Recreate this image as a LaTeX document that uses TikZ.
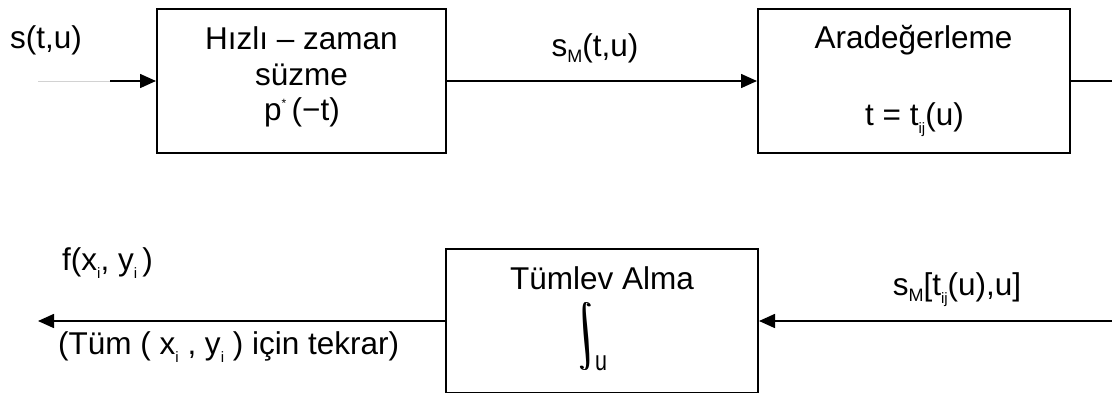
\documentclass[tikz,border=0pt]{standalone}
\usepackage{fontspec}
\setmainfont{Liberation Sans}
\usetikzlibrary{arrows.meta}
% lowered and raised small indices in the sans text
\newcommand{\lo}[1]{\raisebox{-0.22em}{\fontsize{18}{18}\selectfont #1}}
\newcommand{\lolo}[1]{\raisebox{-0.28em}{\fontsize{15}{15}\selectfont #1}}
\newcommand{\hi}[1]{\raisebox{0.4em}{\fontsize{12}{12}\selectfont #1}}
% tall display integral, doubled with a small offset for a heavier stroke
\newcommand{\tallint}{\resizebox*{!}{68pt}{\fontsize{10}{12}\selectfont$\displaystyle\int$}}
\newcommand{\heavyint}{\rlap{\tallint}\kern1.1pt\tallint}
\begin{document}
\begin{tikzpicture}[x=1pt,y=-1pt,
  blockbox/.style={draw=black,line width=2pt,minimum height=144pt,inner sep=0pt},
  txt/.style={inner sep=0pt,font=\fontsize{31.5}{36}\selectfont},
  conn/.style={line width=1.6pt},
  arr/.style={conn,-{Triangle[length=16pt,width=14pt]}}]
\useasboundingbox (0,0) rectangle (1112,392);
\clip (0,0) rectangle (1112,392);

% processing blocks
\node[blockbox,minimum width=289pt] (b1) at (301.5,81) {};
\node[blockbox,minimum width=312pt] (b2) at (914,81) {};
\node[blockbox,minimum width=312pt] (b3) at (602,321) {};

% free ends of the connectors
\coordinate (in0) at (38,81);
\coordinate (in1) at (110,81);
\coordinate (rt) at (1112,81);
\coordinate (rb) at (1112,321);
\coordinate (lb) at (38,321);

% connectors
\draw[gray!35,line width=0.8pt] (in0) -- (in1);
\draw[arr] (in1) -- (b1.west);
\draw[arr] (b1.east) -- (b2.west);
\draw[conn] (b2.east) -- (rt);
\draw[arr] (rb) -- (b3.east);
\draw[arr] (b3.west) -- (lb);

% block texts
\node[txt,anchor=base] (b1a) at (301.5,49) {Hızlı – zaman};
\node[txt,anchor=base] (b1b) at (301.5,85) {süzme};
\node[txt,anchor=base] (b1c) at (302,120) {p\hi{*}\,(−t)};
\node[txt,anchor=base] (b2a) at (913.5,48) {Aradeğerleme};
\node[txt,anchor=base] (b2b) at (914.5,125) {t = t\lolo{ij}(u)};
\node[txt,anchor=base] (b3a) at (602,289) {Tümlev Alma};
% display integral, set upright
\node[inner sep=0pt,xslant=-0.28,transform shape] (b3int) at (586,336.5) {\heavyint};
\node[inner sep=0pt,anchor=base west] (b3u) at (595,370)
  {\scalebox{1}[1.3]{\fontsize{21.5}{21.5}\selectfont u}};

% signal labels
\node[txt,anchor=base west] (lin) at (10,48) {s(t,u)};
\node[txt,anchor=base] (lsm) at (595,56) {s\lo{M}(t,u)};
\node[txt,anchor=base] (lsmt) at (957,295) {s\lo{M}[t\lolo{ij}(u),u]};
\node[txt,anchor=base west] (lf) at (62,270) {f(x\lolo{i}, y\lolo{i}\,)};
\node[txt,anchor=base west] (lrep) at (58,354) {(Tüm ( x\lolo{i} , y\lolo{i} ) için tekrar)};
\end{tikzpicture}
\end{document}
